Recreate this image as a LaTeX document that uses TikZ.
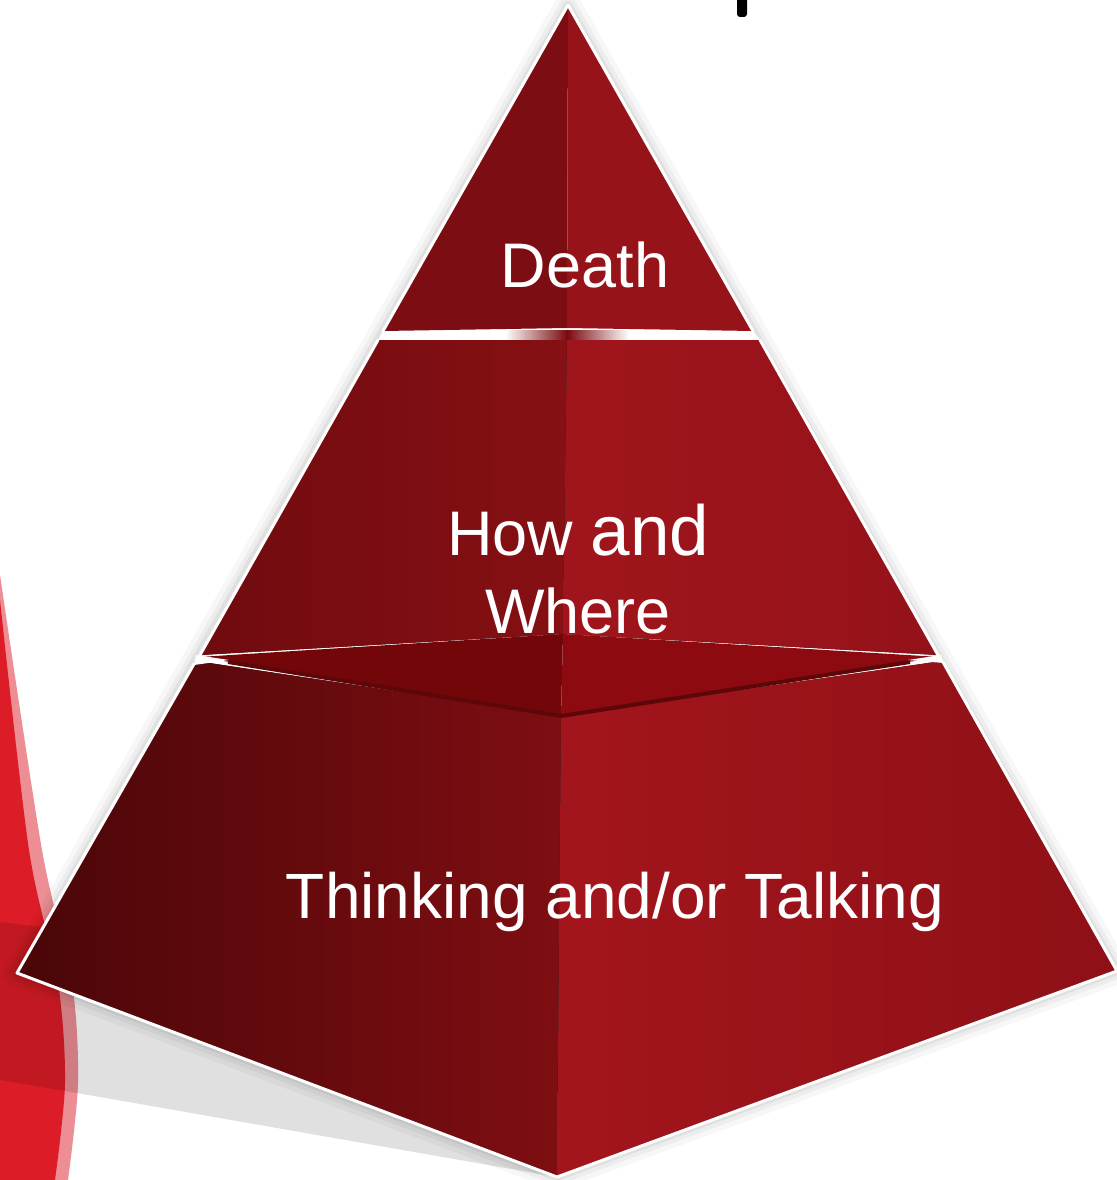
\documentclass[tikz,border=0pt]{standalone}
\usepackage{fontspec}
\setmainfont{Liberation Sans}
\definecolor{band}{HTML}{DC1C26}
\definecolor{bandrim}{HTML}{EC8E94}
\definecolor{topL}{HTML}{7C0D12}
\definecolor{topR}{HTML}{97131A}
\definecolor{midLa}{HTML}{700B0F}
\definecolor{midLb}{HTML}{861013}
\definecolor{midRa}{HTML}{A0151B}
\definecolor{midRb}{HTML}{95121A}
\definecolor{botLa}{HTML}{4A0608}
\definecolor{botLb}{HTML}{7E0E12}
\definecolor{botRa}{HTML}{A3151C}
\definecolor{botRb}{HTML}{8E1016}
\definecolor{faceL}{HTML}{720609}
\definecolor{faceR}{HTML}{8C0A10}
\definecolor{lip}{HTML}{5E0709}
\definecolor{gapdark}{HTML}{7A0A0E}
\begin{document}
\begin{tikzpicture}[x=1pt,y=-1pt,
  lbl/.style={text=white, font=\fontsize{63}{78}\selectfont, inner sep=0pt, anchor=base},
  edge/.style={white, line width=3pt, line join=round, line cap=round},
  glow/.style={black, line join=round}]
\useasboundingbox (0,0) rectangle (1116,1180);
\fill[white] (0,0) rectangle (1116,1180);
% partial title glyph
\fill[black, rounded corners=3pt] (737,-6) rectangle (747,17);
% red band at left
\fill[bandrim] plot[smooth] coordinates {(0,575) (42,850) (72,983) (78,1083) (68,1180)} -- (0,1180) -- cycle;
\fill[band] plot[smooth] coordinates {(0,600) (29,850) (58,983) (65,1083) (55,1180)} -- (0,1180) -- cycle;
% cast shadow
\fill[black, opacity=0.12] (0,922) -- (300,960) -- (557,1177) -- (77,1093) -- (0,1080) -- cycle;
% soft glow around the silhouette
\draw[glow, line width=26pt, opacity=0.03] (568,5) -- (17,973) -- (557,1177) -- (1117,971) -- cycle;
\draw[glow, line width=16pt, opacity=0.04] (568,5) -- (17,973) -- (557,1177) -- (1117,971) -- cycle;
\draw[glow, line width=8pt, opacity=0.05] (568,5) -- (17,973) -- (557,1177) -- (1117,971) -- cycle;
% top tier
\fill[topL] (568,5) -- (383,331) -- (567,328) -- cycle;
\fill[topR] (568,5) -- (567,328) -- (753,331) -- cycle;
% gap between top and middle tier
\fill[white] (383,331) -- (753,331) -- (760,340) -- (378,340) -- cycle;
\fill[left color=white, right color=gapdark] (505,330) rectangle (567,340);
\fill[left color=gapdark, right color=white] (567,330) rectangle (629,340);
% middle tier
\fill[left color=midLa, right color=midLb] (378,340) -- (567,340) -- (563,634) -- (200,655) -- cycle;
\fill[left color=midRa, right color=midRb] (567,340) -- (760,340) -- (938,655) -- (563,634) -- cycle;
% top face of the bottom tier
\fill[faceL] (199,657) -- (563,634) -- (561,716) -- cycle;
\fill[faceR] (563,634) -- (940,657) -- (561,716) -- cycle;
% bottom tier
\fill[left color=botLa, right color=botLb] (196,661) -- (561,716) -- (557,1177) -- (17,973) -- cycle;
\fill[left color=botRa, right color=botRb] (561,716) -- (942,661) -- (1117,971) -- (557,1177) -- cycle;
\draw[lip, line width=4pt, line join=round] (228,662) -- (561,716) -- (910,662);
% notches
\fill[white] (196,655) -- (229,660) -- (194,665) -- cycle;
\fill[white] (941,655) -- (908,660) -- (944,663) -- cycle;
% white outline
\draw[edge] (568,5) -- (383,331);
\draw[edge] (568,5) -- (753,331);
\draw[edge] (378,340) -- (200,655);
\draw[edge] (760,340) -- (938,655);
\draw[edge] (194,664) -- (17,973) -- (557,1177) -- (1117,971) -- (943,662);
% labels
\node[lbl] (death) at (585,287) {Death};
\node[lbl] (how) at (578,555) {How {\fontsize{71}{78}\selectfont and}};
\node[lbl] (where) at (578,633) {Where};
\node[lbl, font=\fontsize{64}{78}\selectfont] (think) at (615,918) {Thinking and/or Talking};
\end{tikzpicture}
\end{document}
